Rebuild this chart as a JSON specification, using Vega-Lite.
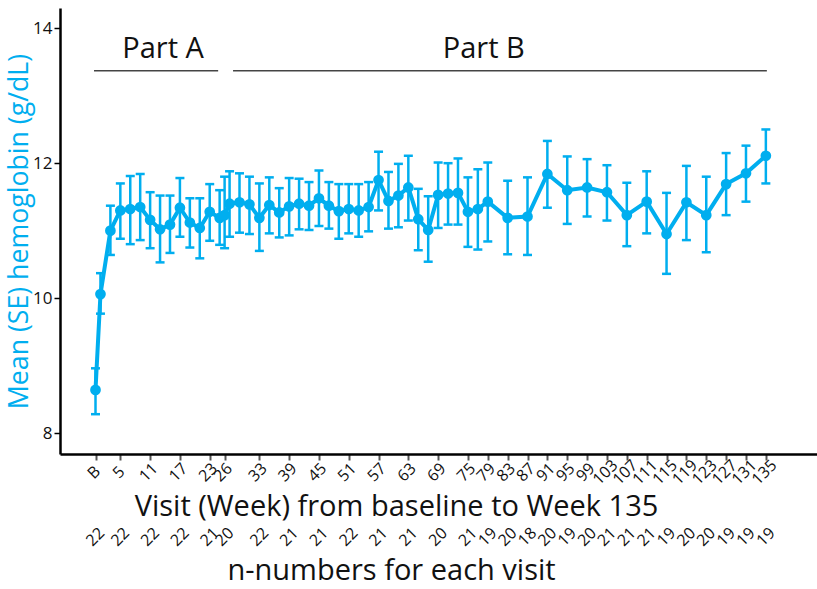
{
  "$schema": "https://vega.github.io/schema/vega-lite/v6.json",
  "width": 757,
  "height": 446,
  "padding": {"left": 6, "top": 8, "right": 0, "bottom": 0},
  "background": "white",
  "config": {
    "view": {"stroke": null},
    "font": "Open Sans",
    "axis": {"labelFont": "Open Sans", "titleFont": "Open Sans"}
  },
  "title": {
    "text": "n-numbers for each visit",
    "orient": "bottom",
    "fontSize": 29,
    "fontWeight": "normal",
    "font": "Open Sans",
    "color": "#111111",
    "dx": -47,
    "offset": 8
  },
  "datasets": {
    "visits": [
      {"week": 0, "mean": 8.64, "lo": 8.28, "hi": 8.96},
      {"week": 1, "mean": 10.06, "lo": 9.77, "hi": 10.37},
      {"week": 3, "mean": 11.0, "lo": 10.64, "hi": 11.37},
      {"week": 5, "mean": 11.3, "lo": 10.88, "hi": 11.7},
      {"week": 7, "mean": 11.32, "lo": 10.8, "hi": 11.81},
      {"week": 9, "mean": 11.35, "lo": 10.86, "hi": 11.84},
      {"week": 11, "mean": 11.16, "lo": 10.74, "hi": 11.57},
      {"week": 13, "mean": 11.02, "lo": 10.53, "hi": 11.52},
      {"week": 15, "mean": 11.09, "lo": 10.67, "hi": 11.52},
      {"week": 17, "mean": 11.34, "lo": 10.91, "hi": 11.78},
      {"week": 19, "mean": 11.12, "lo": 10.75, "hi": 11.48},
      {"week": 21, "mean": 11.04, "lo": 10.59, "hi": 11.48},
      {"week": 23, "mean": 11.28, "lo": 10.85, "hi": 11.69},
      {"week": 25, "mean": 11.19, "lo": 10.79, "hi": 11.6},
      {"week": 26, "mean": 11.23, "lo": 10.74, "hi": 11.8},
      {"week": 27, "mean": 11.4, "lo": 10.91, "hi": 11.88},
      {"week": 29, "mean": 11.42, "lo": 10.97, "hi": 11.85},
      {"week": 31, "mean": 11.39, "lo": 10.95, "hi": 11.8},
      {"week": 33, "mean": 11.19, "lo": 10.7, "hi": 11.7},
      {"week": 35, "mean": 11.38, "lo": 10.96, "hi": 11.79},
      {"week": 37, "mean": 11.27, "lo": 10.9, "hi": 11.63},
      {"week": 39, "mean": 11.36, "lo": 10.93, "hi": 11.78},
      {"week": 41, "mean": 11.4, "lo": 11.02, "hi": 11.77},
      {"week": 43, "mean": 11.37, "lo": 11.01, "hi": 11.72},
      {"week": 45, "mean": 11.48, "lo": 11.07, "hi": 11.89},
      {"week": 47, "mean": 11.37, "lo": 11.03, "hi": 11.72},
      {"week": 49, "mean": 11.29, "lo": 10.88, "hi": 11.69},
      {"week": 51, "mean": 11.32, "lo": 10.96, "hi": 11.69},
      {"week": 53, "mean": 11.3, "lo": 10.91, "hi": 11.69},
      {"week": 55, "mean": 11.35, "lo": 10.99, "hi": 11.72},
      {"week": 57, "mean": 11.75, "lo": 11.3, "hi": 12.17},
      {"week": 59, "mean": 11.44, "lo": 11.03, "hi": 11.87},
      {"week": 61, "mean": 11.52, "lo": 11.05, "hi": 11.99},
      {"week": 63, "mean": 11.64, "lo": 11.15, "hi": 12.11},
      {"week": 65, "mean": 11.17, "lo": 10.71, "hi": 11.62},
      {"week": 67, "mean": 11.01, "lo": 10.54, "hi": 11.51},
      {"week": 69, "mean": 11.53, "lo": 11.04, "hi": 12.01},
      {"week": 71, "mean": 11.55, "lo": 11.09, "hi": 12.0},
      {"week": 73, "mean": 11.56, "lo": 11.09, "hi": 12.07},
      {"week": 75, "mean": 11.28, "lo": 10.76, "hi": 11.79},
      {"week": 77, "mean": 11.32, "lo": 10.72, "hi": 11.91},
      {"week": 79, "mean": 11.43, "lo": 10.84, "hi": 12.01},
      {"week": 83, "mean": 11.19, "lo": 10.65, "hi": 11.74},
      {"week": 87, "mean": 11.21, "lo": 10.64, "hi": 11.79},
      {"week": 91, "mean": 11.84, "lo": 11.34, "hi": 12.33},
      {"week": 95, "mean": 11.6, "lo": 11.1, "hi": 12.1},
      {"week": 99, "mean": 11.64, "lo": 11.21, "hi": 12.06},
      {"week": 103, "mean": 11.57, "lo": 11.15, "hi": 11.97},
      {"week": 107, "mean": 11.23, "lo": 10.77, "hi": 11.71},
      {"week": 111, "mean": 11.43, "lo": 10.96, "hi": 11.88},
      {"week": 115, "mean": 10.95, "lo": 10.36, "hi": 11.56},
      {"week": 119, "mean": 11.42, "lo": 10.86, "hi": 11.96},
      {"week": 123, "mean": 11.23, "lo": 10.68, "hi": 11.8},
      {"week": 127, "mean": 11.69, "lo": 11.23, "hi": 12.15},
      {"week": 131, "mean": 11.85, "lo": 11.43, "hi": 12.26},
      {"week": 135, "mean": 12.11, "lo": 11.7, "hi": 12.5}
    ],
    "ticks": [
      {"week": 0, "n": 22}, {"week": 5, "n": 22}, {"week": 11, "n": 22},
      {"week": 17, "n": 22}, {"week": 23, "n": 21}, {"week": 26, "n": 20},
      {"week": 33, "n": 22}, {"week": 39, "n": 21}, {"week": 45, "n": 21},
      {"week": 51, "n": 22}, {"week": 57, "n": 21}, {"week": 63, "n": 21},
      {"week": 69, "n": 20}, {"week": 75, "n": 21}, {"week": 79, "n": 19},
      {"week": 83, "n": 20}, {"week": 87, "n": 18}, {"week": 91, "n": 20},
      {"week": 95, "n": 19}, {"week": 99, "n": 20}, {"week": 103, "n": 21},
      {"week": 107, "n": 21}, {"week": 111, "n": 21}, {"week": 115, "n": 19},
      {"week": 119, "n": 20}, {"week": 123, "n": 20}, {"week": 127, "n": 19},
      {"week": 131, "n": 19}, {"week": 135, "n": 19}
    ],
    "parts": [
      {"label": "Part A", "week": -0.3, "end": 24.7, "mid": 13.6},
      {"label": "Part B", "week": 27.7, "end": 135.2, "mid": 78.2}
    ]
  },
  "encoding": {
    "x": {
      "field": "week",
      "type": "quantitative",
      "scale": {"domain": [-7.15, 145.3], "nice": false, "zero": false},
      "axis": {
        "title": "Visit (Week) from baseline to Week 135",
        "titleFontSize": 29,
        "titleFontWeight": "normal",
        "titleColor": "#111111",
        "titleX": 336,
        "titlePadding": 5,
        "values": [0, 5, 11, 17, 23, 26, 33, 39, 45, 51, 57, 63, 69, 75, 79, 83, 87, 91, 95, 99, 103, 107, 111, 115, 119, 123, 127, 131, 135],
        "labelExpr": "datum.value == 0 ? 'B' : datum.label",
        "labelAngle": -45,
        "labelAlign": "center",
        "labelBaseline": "middle",
        "labelOffset": -2,
        "labelFontSize": 16,
        "labelColor": "#111111",
        "labelOverlap": false,
        "labelPadding": 12,
        "grid": false,
        "domainColor": "#000000",
        "domainWidth": 2.5,
        "tickColor": "#555555",
        "tickWidth": 2,
        "tickSize": 6
      }
    }
  },
  "layer": [
    {
      "data": {"name": "visits"},
      "mark": {"type": "rule", "color": "#00AEEF", "strokeWidth": 2.5},
      "encoding": {
        "y": {
          "field": "lo",
          "type": "quantitative",
          "scale": {"domain": [7.69, 14.3], "nice": false, "zero": false},
          "axis": {
            "title": "Mean (SE) hemoglobin (g/dL)",
            "titleFontSize": 26.7,
            "titleFontWeight": "normal",
            "titleColor": "#00AEEF",
            "titlePadding": -1,
            "values": [8, 10, 12, 14],
            "format": "d",
            "labelFontSize": 17,
            "labelColor": "#111111",
            "grid": false,
            "domainColor": "#000000",
            "domainWidth": 2.5,
            "tickColor": "#000000",
            "tickWidth": 1.5,
            "tickSize": 6
          }
        },
        "y2": {"field": "hi"}
      }
    },
    {
      "data": {"name": "visits"},
      "mark": {"type": "tick", "orient": "horizontal", "color": "#00AEEF", "size": 9, "thickness": 2.5, "opacity": 1},
      "encoding": {
        "y": {"field": "lo", "type": "quantitative"}
      }
    },
    {
      "data": {"name": "visits"},
      "mark": {"type": "tick", "orient": "horizontal", "color": "#00AEEF", "size": 9, "thickness": 2.5, "opacity": 1},
      "encoding": {
        "y": {"field": "hi", "type": "quantitative"}
      }
    },
    {
      "data": {"name": "visits"},
      "mark": {"type": "line", "color": "#00AEEF", "strokeWidth": 4},
      "encoding": {
        "y": {"field": "mean", "type": "quantitative"}
      }
    },
    {
      "data": {"name": "visits"},
      "mark": {"type": "point", "filled": true, "opacity": 1, "color": "#00AEEF", "size": 115},
      "encoding": {
        "y": {"field": "mean", "type": "quantitative"}
      }
    },
    {
      "data": {"name": "parts"},
      "mark": {"type": "rule", "color": "#444444", "strokeWidth": 1.5},
      "encoding": {
        "x2": {"field": "end"},
        "y": {"datum": 13.37, "type": "quantitative"}
      }
    },
    {
      "data": {"name": "parts"},
      "mark": {"type": "text", "fontSize": 29, "font": "Open Sans", "color": "#111111", "baseline": "alphabetic", "align": "center"},
      "encoding": {
        "x": {"field": "mid", "type": "quantitative"},
        "y": {"datum": 13.56, "type": "quantitative"},
        "text": {"field": "label"}
      }
    },
    {
      "data": {"name": "ticks"},
      "mark": {"type": "text", "angle": -45, "align": "center", "baseline": "middle", "fontSize": 16, "font": "Open Sans", "color": "#111111", "clip": false},
      "encoding": {
        "y": {"datum": 6.46, "type": "quantitative"},
        "text": {"field": "n"}
      }
    }
  ]
}
